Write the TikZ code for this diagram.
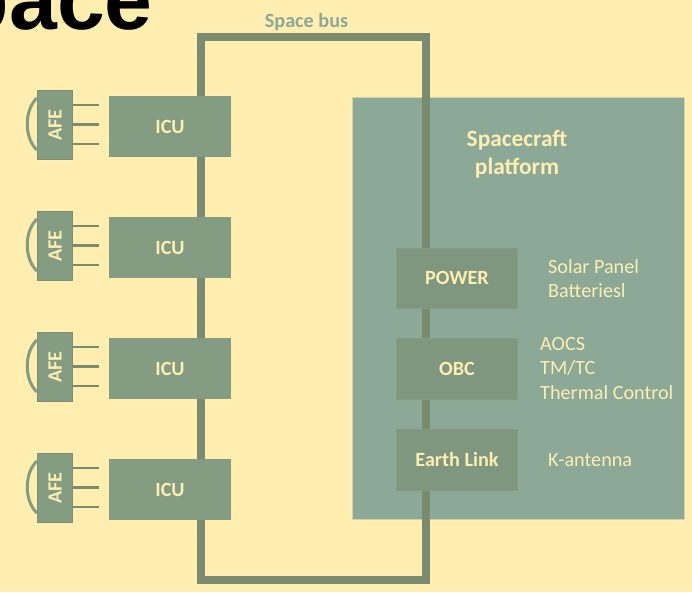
\documentclass[tikz,border=0pt]{standalone}
\usepackage{fontspec}
\setmainfont{Carlito}
\newfontfamily\titlefont{Liberation Sans}
\definecolor{bgc}{RGB}{255,238,176}
\definecolor{busc}{RGB}{122,139,112}
\definecolor{icuc}{RGB}{131,156,130}
\definecolor{platc}{RGB}{140,169,151}
\definecolor{subc}{RGB}{127,151,126}
\definecolor{txtc}{RGB}{253,238,178}
\tikzset{
  boxstyle/.style={anchor=north west,inner sep=0pt,outer sep=0pt,fill=icuc,text=txtc,font=\bfseries\fontsize{20.2}{24}\selectfont,align=center},
  icubox/.style={boxstyle,minimum width=122pt,minimum height=61pt},
  subbox/.style={boxstyle,fill=subc,draw=icuc,line width=0.8pt,minimum width=121pt,minimum height=60.5pt},
  afebox/.style={boxstyle,fill=icuc,draw=busc!80!icuc,line width=1.5pt,minimum width=35pt,minimum height=69pt},
  lead/.style={draw=busc,line width=2.8pt},
  bow/.style={draw=icuc,line width=3pt},
  busline/.style={draw=busc,line width=8pt,line join=miter},
  note/.style={anchor=north west,inner sep=0pt,text=txtc,align=left,font=\fontsize{20.2}{24.5}\selectfont},
}
\begin{document}
\begin{tikzpicture}[x=1pt,y=-1pt]
\useasboundingbox (0,0) rectangle (692,592);
\clip (0,0) rectangle (692,592);
\fill[bgc] (0,0) rectangle (692,592);
\node[anchor=base east,inner sep=0pt,font=\titlefont\bfseries\fontsize{86}{86}\selectfont] (title) at (153,29) {Space};
\node[anchor=north west,inner sep=0pt,minimum width=332pt,minimum height=422pt,fill=platc,draw=bgc!60!platc,line width=0.6pt] (platform) at (351.5,97) {};
\coordinate (tl) at (201,37);
\coordinate (tr) at (426,37);
\coordinate (bl) at (201,580);
\coordinate (br) at (426,580);
\draw[busline] (tl) -- (tr) -- (br) -- (bl) -- cycle;
\node[anchor=base,inner sep=0pt,text=platc,font=\bfseries\fontsize{20.2}{24}\selectfont] (busl) at (306.5,27) {Space bus};
\foreach \i/\y in {1/96,2/217,3/338,4/459}{
  \node[icubox] (icu\i) at (109,\y) {ICU};
  \node[afebox] (afe\i) at (37.5,\y-5.5) {\rotatebox{90}{AFE}};
  \coordinate (la\i) at (99,\y+9);
  \coordinate (lb\i) at (99,\y+28.5);
  \coordinate (lc\i) at (99,\y+48);
  \draw[lead] (afe\i.east |- la\i) -- (la\i);
  \draw[lead] (afe\i.east |- lb\i) -- (lb\i);
  \draw[lead] (afe\i.east |- lc\i) -- (lc\i);
  \coordinate (ba\i) at (37,\y+2);
  \coordinate (bb\i) at (37,\y+54);
  \draw[bow] (ba\i) .. controls (24,\y+14) and (24,\y+42) .. (bb\i);
}
\node[subbox] (power) at (396.5,248) {POWER};
\node[subbox] (obc) at (396.5,338.5) {OBC};
\node[subbox] (earth) at (396.5,429.5) {Earth Link};
\node[anchor=center,inner sep=0pt,text=txtc,align=center,font=\bfseries\fontsize{23.4}{28}\selectfont] (sp) at (517,154) {Spacecraft\\platform};
\node[note] (n1) at (548,259) {Solar Panel\\Batteriesl};
\node[note] (n2) at (540,337) {AOCS\\TM/TC\\Thermal Control};
\node[note] (n3) at (548,453) {K-antenna};
\end{tikzpicture}
\end{document}
